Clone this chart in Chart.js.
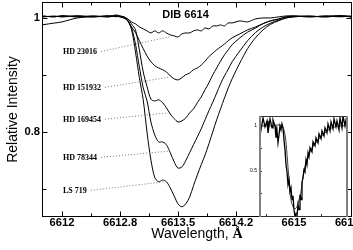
<!DOCTYPE html>
<html>
<head>
<meta charset="utf-8">
<script src="https://cdn.jsdelivr.net/npm/chart.js@4.4.1/dist/chart.umd.min.js"></script>
<style>
  html, body { margin: 0; padding: 0; background: #fff; }
  #wrap { position: relative; width: 353px; height: 250px; overflow: hidden; }
  #main { position: absolute; left: 0; top: 0; }
  #inset { position: absolute; left: 245px; top: 110px; }
</style>
</head>
<body>
<div id="wrap">
  <canvas id="main" width="353" height="250"></canvas>
  <canvas id="inset" width="108" height="110"></canvas>
</div>
<script>
// wavelength grid (Angstrom) shared by the five spectra
const wavelengths = [6611.75, 6611.9, 6612.0, 6612.2, 6612.4, 6612.6, 6612.7, 6612.75, 6612.8, 6612.85,
  6612.9, 6612.95, 6613.0, 6613.05, 6613.1, 6613.15, 6613.2, 6613.25, 6613.3, 6613.35,
  6613.4, 6613.45, 6613.5, 6613.55, 6613.6, 6613.65, 6613.7, 6613.75, 6613.8, 6613.85,
  6613.9, 6613.95, 6614.0, 6614.05, 6614.1, 6614.15, 6614.2, 6614.3, 6614.4, 6614.5,
  6614.6, 6614.7, 6614.8, 6614.9, 6615.0, 6615.2, 6615.4, 6615.6, 6615.75];

const hd23016 = [1.0035, 1.0018, 1.0035, 1.0018, 1.0035, 1.0018, 1.0053, 1.0035, 1.0018, 0.9982,
  0.993, 0.9895, 0.9842, 0.9807, 0.9772, 0.9736, 0.9772, 0.9736, 0.9772, 0.9736,
  0.9701, 0.9684, 0.9666, 0.9719, 0.9736, 0.9736, 0.9772, 0.9789, 0.9772, 0.9824,
  0.9807, 0.9859, 0.9859, 0.9877, 0.9859, 0.9912, 0.9912, 0.9947, 0.993, 0.9982,
  1.0, 1.0, 1.0018, 1.0035, 1.0035, 1.0018, 1.0035, 1.0035, 1.0018];

const hd151932 = [0.988, 0.991, 0.993, 1.0, 1.002, 1.003, 1.004, 1.003, 1.002, 0.995,
  0.984, 0.974, 0.960, 0.946, 0.933, 0.923, 0.916, 0.912, 0.909, 0.905,
  0.898, 0.893, 0.891, 0.895, 0.900, 0.903, 0.909, 0.912, 0.917, 0.924,
  0.932, 0.938, 0.944, 0.949, 0.954, 0.960, 0.965, 0.972, 0.979, 0.984,
  0.990, 0.995, 0.998, 1.002, 1.003, 1.003, 1.002, 1.004, 1.003];

const hd169454 = [1.002, 1.003, 1.002, 1.004, 1.002, 1.003, 1.003, 1.002, 1.0, 0.998,
  0.989, 0.979, 0.944, 0.905, 0.879, 0.857, 0.854, 0.856, 0.851, 0.842,
  0.831, 0.823, 0.817, 0.819, 0.824, 0.833, 0.840, 0.851, 0.861, 0.874,
  0.886, 0.900, 0.912, 0.924, 0.935, 0.944, 0.953, 0.965, 0.975, 0.982,
  0.990, 0.995, 0.998, 1.002, 1.003, 1.002, 1.003, 1.002, 1.003];

const hd78344 = [1.002, 1.003, 1.002, 1.003, 1.002, 1.004, 1.002, 1.003, 1.0, 0.995,
  0.982, 0.954, 0.914, 0.877, 0.854, 0.817, 0.794, 0.782, 0.782, 0.777,
  0.763, 0.747, 0.736, 0.738, 0.749, 0.763, 0.777, 0.791, 0.805, 0.821,
  0.837, 0.852, 0.868, 0.884, 0.898, 0.910, 0.923, 0.942, 0.960, 0.974,
  0.984, 0.991, 0.996, 1.0, 1.002, 1.003, 1.002, 1.003, 1.002];

const ls719 = [1.003, 1.002, 1.004, 1.002, 1.003, 1.002, 1.003, 1.002, 1.0, 0.995,
  0.979, 0.940, 0.895, 0.856, 0.798, 0.750, 0.719, 0.712, 0.715, 0.712,
  0.701, 0.687, 0.673, 0.668, 0.673, 0.685, 0.705, 0.724, 0.742, 0.759,
  0.779, 0.800, 0.821, 0.840, 0.859, 0.877, 0.893, 0.921, 0.946, 0.965,
  0.979, 0.989, 0.995, 1.0, 1.002, 1.003, 1.002, 1.003, 1.002];

const starNames = ['HD 23016', 'HD 151932', 'HD 169454', 'HD 78344', 'LS 719'];
const spectra = [hd23016, hd151932, hd169454, hd78344, ls719];

// where the star names sit and where their dotted leaders end (data units)
const labelWavelength = 6612.013;
const labelIntensity = [0.940, 0.877, 0.821, 0.754, 0.696];
const leaderEndWavelength = [6613.397, 6613.397, 6613.371, 6613.397, 6613.332];
const leaderEndIntensity = [0.967, 0.896, 0.833, 0.766, 0.712];

const chartTitle = 'DIB 6614';
const titleWavelength = 6613.597;
const titleIntensity = 1.0053;

const xTickValues = [6612, 6612.75, 6613.5, 6614.25, 6615, 6615.75];
const xTickLabels = ['6612', '6612.8', '6613.5', '6614.2', '6615', '6615.8'];
const yTickValues = [0.7, 0.8, 0.9, 1];
const yTickLabels = ['', '0.8', '', '1'];

// inset: observed (noisy) profile and fitted profile
const insetOffset = [-0.37, -0.35, -0.33, -0.31, -0.29, -0.28, -0.26, -0.24, -0.23, -0.21,
  -0.20, -0.19, -0.18, -0.17, -0.16, -0.15, -0.14, -0.13, -0.12, -0.11,
  -0.10, -0.09, -0.08, -0.07, -0.06, -0.05, -0.04, -0.03, -0.02, -0.01,
  0, 0.01, 0.02, 0.03, 0.04, 0.05, 0.06, 0.07, 0.08, 0.09,
  0.10, 0.11, 0.12, 0.13, 0.14, 0.16, 0.17, 0.19, 0.20, 0.22,
  0.23, 0.25, 0.26, 0.28, 0.29, 0.31, 0.32, 0.34, 0.35, 0.37,
  0.38, 0.40, 0.41, 0.43, 0.44, 0.46, 0.47, 0.49, 0.50, 0.52];
const insetObserved = [1.044, 0.956, 1.089, 0.989, 1.056, 0.922, 1.078, 0.978, 1.067, 1.0,
  0.867, 0.944, 0.811, 0.9, 1.0, 0.956, 1.022, 0.978, 0.844, 0.733,
  0.567, 0.489, 0.344, 0.4, 0.267, 0.311, 0.178, 0.222, 0.067, -0.011,
  0.022, -0.011, 0.122, 0.067, 0.233, 0.178, 0.367, 0.422, 0.511, 0.489,
  0.622, 0.567, 0.7, 0.656, 0.756, 0.711, 0.822, 0.778, 0.867, 0.811,
  0.911, 0.856, 0.944, 0.889, 0.978, 0.922, 1.022, 0.944, 1.044, 0.967,
  1.078, 0.989, 1.056, 0.956, 1.089, 0.978, 1.111, 1.0, 1.067, 1.022];
const modelOffset = [-0.37, -0.26, -0.18, -0.14, -0.11, -0.09, -0.07, -0.05, -0.03, -0.01,
  0.01, 0.03, 0.05, 0.07, 0.10, 0.14, 0.19, 0.24, 0.29, 0.34, 0.39, 0.44, 0.52];
const modelProfile = [1.0, 1.0, 1.01, 1.0, 0.9, 0.678, 0.4, 0.178, 0.1, 0.078,
  0.1, 0.178, 0.267, 0.433, 0.589, 0.711, 0.8, 0.867, 0.922, 0.967, 0.989, 1.0, 1.0];
const insetXTicks = [-0.3, 0, 0.25, 0.5];
const insetYTicks = [0.25, 0.5, 0.75, 1];
const insetYLabels = ['', '0.5', '', '1'];

const sans = '"Liberation Sans", Arial, sans-serif';
const serif = '"Liberation Serif", "Times New Roman", serif';

function tickLine(ctx, x1, y1, x2, y2) {
    ctx.moveTo(x1, y1);
    ctx.lineTo(x2, y2);
}

const mainDecor = {
    id: 'mainDecor',
    afterDraw(chart) {
        const {ctx, chartArea: a, scales: {x, y}} = chart;
        const L = Math.round(a.left) + 0.5, R = Math.round(a.right) - 0.5;
        const T = Math.round(a.top) + 0.5, B = Math.round(a.bottom) - 0.5;
        ctx.save();
        ctx.strokeStyle = '#000';
        ctx.lineWidth = 1;
        ctx.strokeRect(L, T, R - L, B - T);

        // inward ticks on all four sides
        ctx.beginPath();
        xTickValues.forEach((v, i) => {
            const px = Math.round(x.getPixelForValue(v)) + 0.5;
            if (px <= R) {
                tickLine(ctx, px, B, px, B - 5);
                tickLine(ctx, px, T, px, T + 5);
            }
            if (i < xTickValues.length - 1) {
                const mx = Math.round(x.getPixelForValue((v + xTickValues[i + 1]) / 2)) + 0.5;
                tickLine(ctx, mx, B, mx, B - 3);
                tickLine(ctx, mx, T, mx, T + 3);
            }
        });
        yTickValues.forEach((v, i) => {
            const py = Math.round(y.getPixelForValue(v)) + 0.5;
            const len = yTickLabels[i] ? 5 : 4;
            tickLine(ctx, L, py, L + len, py);
            tickLine(ctx, R, py, R - len, py);
        });
        ctx.stroke();

        // star names with dotted leaders
        ctx.font = 'bold 8px ' + serif;
        ctx.textBaseline = 'middle';
        ctx.textAlign = 'left';
        starNames.forEach((name, i) => {
            const tx = x.getPixelForValue(labelWavelength);
            const ty = y.getPixelForValue(labelIntensity[i]);
            ctx.fillStyle = '#000';
            ctx.fillText(name, tx, ty);
            const w = ctx.measureText(name).width;
            ctx.save();
            ctx.setLineDash([1, 2]);
            ctx.strokeStyle = '#777';
            ctx.beginPath();
            ctx.moveTo(tx + w + 4, ty - 0.5);
            ctx.lineTo(x.getPixelForValue(leaderEndWavelength[i]), y.getPixelForValue(leaderEndIntensity[i]));
            ctx.stroke();
            ctx.restore();
        });

        // title
        ctx.font = 'bold 11px ' + sans;
        ctx.textAlign = 'center';
        ctx.fillStyle = '#000';
        ctx.fillText(chartTitle, x.getPixelForValue(titleWavelength), y.getPixelForValue(titleIntensity));

        // x axis title, the Angstrom sign in a serif face
        const part1 = 'Wavelength, ';
        const part2 = '\u00C5';
        ctx.font = '14px ' + sans;
        const w1 = ctx.measureText(part1).width;
        ctx.font = 'bold 14px ' + serif;
        const w2 = ctx.measureText(part2).width;
        const cx = (a.left + a.right) / 2;
        const startX = cx - (w1 + w2) / 2;
        ctx.textAlign = 'left';
        ctx.textBaseline = 'alphabetic';
        ctx.font = '14px ' + sans;
        ctx.fillText(part1, startX, 238);
        ctx.font = 'bold 14px ' + serif;
        ctx.fillText(part2, startX + w1, 238);
        ctx.restore();
    }
};

new Chart(document.getElementById('main'), {
    type: 'line',
    data: {
        datasets: spectra.map((s, i) => ({
            label: starNames[i],
            data: wavelengths.map((w, j) => ({x: w, y: s[j]})),
            borderColor: '#000',
            borderWidth: 1,
            pointRadius: 0,
            tension: 0.3,
            fill: false
        }))
    },
    options: {
        responsive: false,
        animation: false,
        events: [],
        layout: {padding: {top: 2, right: 1, left: 0, bottom: 0}},
        plugins: {legend: {display: false}, tooltip: {enabled: false}},
        scales: {
            x: {
                type: 'linear',
                min: 6611.741,
                max: 6615.75,
                grid: {display: false, drawTicks: false},
                border: {display: false},
                afterBuildTicks: s => { s.ticks = xTickValues.map(v => ({value: v})); },
                afterFit: s => { s.height = 33; s.paddingLeft = 0; s.paddingRight = 0; },
                ticks: {
                    autoSkip: false,
                    maxRotation: 0,
                    padding: 0,
                    color: '#000',
                    font: {family: sans, weight: 'bold', size: 11.2, lineHeight: 1},
                    callback: (v, i) => xTickLabels[i]
                }
            },
            y: {
                type: 'linear',
                min: 0.65,
                max: 1.028,
                grid: {display: false, drawTicks: false},
                border: {display: false},
                afterBuildTicks: s => { s.ticks = yTickValues.map(v => ({value: v})); },
                afterFit: s => { s.width = 42; s.paddingTop = 0; s.paddingBottom = 0; },
                ticks: {
                    autoSkip: false,
                    padding: 2,
                    color: '#000',
                    font: {family: sans, weight: 'bold', size: 11.2, lineHeight: 1},
                    callback: (v, i) => yTickLabels[i]
                },
                title: {
                    display: true,
                    text: 'Relative Intensity',
                    color: '#000',
                    font: {family: sans, size: 14, lineHeight: 1.2},
                    padding: {top: 5, bottom: 0}
                }
            }
        }
    },
    plugins: [mainDecor]
});

const insetDecor = {
    id: 'insetDecor',
    beforeDatasetsDraw(chart) {
        const {ctx, chartArea: a} = chart;
        ctx.save();
        ctx.fillStyle = '#fff';
        ctx.fillRect(a.left, a.top, a.right - a.left, a.bottom - a.top);
        ctx.restore();
    },
    afterDraw(chart) {
        const {ctx, chartArea: a, scales: {x, y}} = chart;
        ctx.save();
        ctx.strokeStyle = '#333';
        ctx.lineWidth = 1;
        ctx.beginPath();
        tickLine(ctx, a.left, Math.round(a.top) + 0.5, a.right, Math.round(a.top) + 0.5);
        tickLine(ctx, a.left, Math.round(a.bottom) - 0.5, a.right, Math.round(a.bottom) - 0.5);
        insetXTicks.forEach(v => {
            const px = Math.round(x.getPixelForValue(v)) + 0.5;
            tickLine(ctx, px, a.bottom, px, a.bottom - 3);
        });
        insetYTicks.forEach(v => {
            const py = Math.round(y.getPixelForValue(v)) + 0.5;
            tickLine(ctx, a.left, py, a.left + 3, py);
        });
        ctx.stroke();
        ctx.strokeStyle = '#808080';
        ctx.lineWidth = 2;
        ctx.beginPath();
        tickLine(ctx, a.left + 1, a.top, a.left + 1, a.bottom);
        tickLine(ctx, a.right - 1, a.top, a.right - 1, a.bottom);
        ctx.stroke();
        ctx.font = '5px ' + sans;
        ctx.fillStyle = '#000';
        ctx.textAlign = 'right';
        ctx.textBaseline = 'middle';
        insetYTicks.forEach((v, i) => {
            if (insetYLabels[i]) ctx.fillText(insetYLabels[i], a.left - 2, y.getPixelForValue(v));
        });
        ctx.restore();
    }
};

new Chart(document.getElementById('inset'), {
    type: 'line',
    data: {
        datasets: [{
            data: insetOffset.map((v, i) => ({x: v, y: insetObserved[i]})),
            borderColor: '#000',
            borderWidth: 1.3,
            pointRadius: 0,
            tension: 0
        }, {
            data: modelOffset.map((v, i) => ({x: v, y: modelProfile[i]})),
            borderColor: '#222',
            borderWidth: 0.9,
            pointRadius: 0,
            tension: 0.4
        }]
    },
    options: {
        responsive: false,
        animation: false,
        events: [],
        layout: {padding: {left: 14, right: 5, top: 6, bottom: 3}},
        plugins: {legend: {display: false}, tooltip: {enabled: false}},
        scales: {
            x: {type: 'linear', display: false, min: -0.37, max: 0.52},
            y: {type: 'linear', display: false, min: -0.015, max: 1.11}
        }
    },
    plugins: [insetDecor]
});
</script>
</body>
</html>
